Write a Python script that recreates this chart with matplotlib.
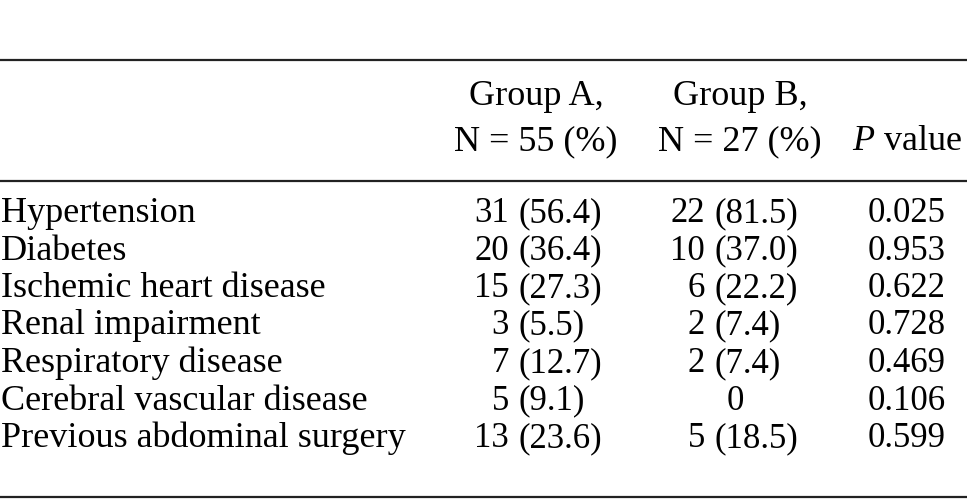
import matplotlib.pyplot as plt

plt.rcParams['font.family'] = ['Liberation Serif', 'DejaVu Serif']
plt.rcParams['mathtext.fontset'] = 'custom'
plt.rcParams['mathtext.rm'] = 'Liberation Serif'
plt.rcParams['mathtext.it'] = 'Liberation Serif:italic'

# --- table data ---
conditions = ['Hypertension', 'Diabetes', 'Ischemic heart disease', 'Renal impairment',
              'Respiratory disease', 'Cerebral vascular disease', 'Previous abdominal surgery']
group_a_n = [31, 20, 15, 3, 7, 5, 13]
group_a_pct = [56.4, 36.4, 27.3, 5.5, 12.7, 9.1, 23.6]
group_b_n = [22, 10, 6, 2, 2, 0, 5]
group_b_pct = [81.5, 37.0, 22.2, 7.4, 7.4, None, 18.5]
p_values = ['0.025', '0.953', '0.622', '0.728', '0.469', '0.106', '0.599']
headers_a = ['Group A,', 'N = 55 (%)']
headers_b = ['Group B,', 'N = 27 (%)']
header_p = '$P$ value'

W, H = 967, 504
fig = plt.figure(figsize=(W / 100, H / 100), dpi=100)
ax = fig.add_axes([0, 0, 1, 1])
ax.set_xlim(0, W)
ax.set_ylim(H, 0)
ax.axis('off')

fs_head, fs_lab, fs_num = 26, 26, 25
line_kw = dict(color='#222222', linewidth=1.6)
ax.axhline(59.5, **line_kw)
ax.axhline(180.5, **line_kw)
ax.axhline(497, **line_kw)

# header
xa, xb, xp = 536, 740, 907
for i, (ha_txt, hb_txt) in enumerate(zip(headers_a, headers_b)):
    y = 105 + 45 * i
    ax.text(xa, y, ha_txt, ha='center', va='baseline', fontsize=fs_head)
    ax.text(xb, y, hb_txt, ha='center', va='baseline', fontsize=fs_head)
ax.text(xp, 150, header_p, ha='center', va='baseline', fontsize=fs_head)

# body rows: counts right-aligned, percentages left-aligned at the "(" column
par_a, par_b, gap = 519, 715, 10
for i, name in enumerate(conditions):
    y = 222 + 37.5 * i
    ax.text(1, y, name, ha='left', va='baseline', fontsize=fs_lab)
    ax.text(par_a - gap, y, str(group_a_n[i]), ha='right', va='baseline', fontsize=fs_num)
    ax.text(par_a, y, f'({group_a_pct[i]:.1f})', ha='left', va='baseline', fontsize=fs_num)
    if group_b_pct[i] is None:
        ax.text(735, y, str(group_b_n[i]), ha='center', va='baseline', fontsize=fs_num)
    else:
        ax.text(par_b - gap, y, str(group_b_n[i]), ha='right', va='baseline', fontsize=fs_num)
        ax.text(par_b, y, f'({group_b_pct[i]:.1f})', ha='left', va='baseline', fontsize=fs_num)
    ax.text(xp, y, p_values[i], ha='center', va='baseline', fontsize=fs_num)

fig.savefig('out.png', dpi=100)
